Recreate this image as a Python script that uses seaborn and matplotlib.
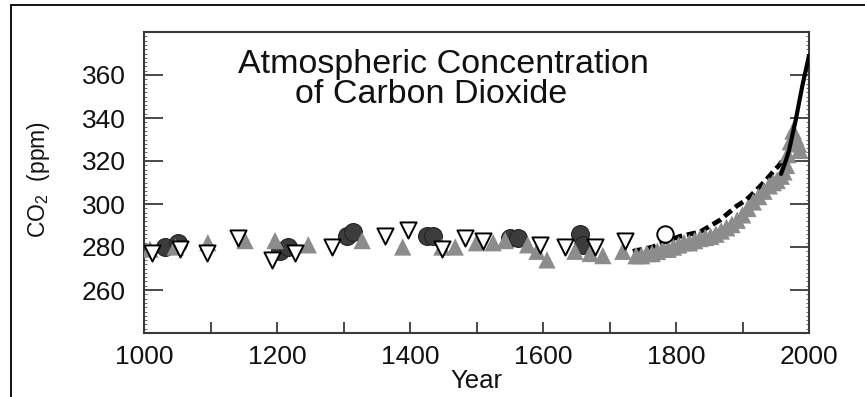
import matplotlib
matplotlib.use("Agg")
import matplotlib.pyplot as plt
from matplotlib.lines import Line2D
from matplotlib.ticker import MultipleLocator
import seaborn as sns

# ---- data ----
years_down = [1012, 1054, 1095, 1141, 1192, 1227, 1283, 1362, 1397, 1448, 1483, 1510, 1595, 1633, 1678, 1723]
ppm_down = [277, 279, 277, 284, 274, 277, 280, 285, 288, 279, 284, 283, 281, 280, 280, 283]

years_grey = [1009, 1047, 1096, 1152, 1197, 1247, 1328, 1389, 1448, 1468, 1500, 1525, 1543, 1577, 1591,
              1606, 1648, 1671, 1690, 1720]
ppm_grey = [279, 280, 282, 283, 283, 281, 283, 280, 280, 280, 282, 282, 283, 281, 278,
            274, 278, 277, 276, 278]

years_dark = [1032, 1051, 1204, 1217, 1305, 1314, 1425, 1435, 1550, 1562, 1656, 1660]
ppm_dark = [280, 282, 278, 280, 285, 287, 285, 285, 284, 284, 286, 281]

years_open = [1783]
ppm_open = [286]

years_band = [1740, 1748, 1756, 1764, 1772, 1780, 1788, 1796, 1804, 1812, 1820, 1828, 1836, 1844, 1852,
              1860, 1868, 1876, 1884, 1892, 1900, 1908, 1916, 1924, 1932, 1940, 1946, 1952, 1958,
              1962, 1966, 1968, 1972, 1976, 1980, 1984, 1986]
ppm_band = [276, 276, 277, 277, 278, 279, 279, 280, 281, 282, 282, 283, 284, 284.5, 285,
            286, 287.5, 289, 290.5, 292.5, 295, 298, 301, 303.5, 306, 308.5, 310, 311, 313,
            315, 318, 323, 329, 334, 331, 328, 325]

years_dash = [1735, 1750, 1765, 1780, 1806, 1836, 1866, 1891, 1906, 1921, 1935, 1946, 1955, 1962]
ppm_dash = [278, 279, 280, 282, 285, 287, 292.5, 299, 302, 306.5, 311, 315, 318, 321]

years_ml = [1958, 1965, 1970, 1975, 1980, 1985, 1990, 1995, 2000]
ppm_ml = [314, 320, 325, 332, 339, 347, 355, 362, 369]

x_major = [1000, 1100, 1200, 1300, 1400, 1500, 1600, 1700, 1800, 1900, 2000]
x_labels = ["1000", "", "1200", "", "1400", "", "1600", "", "1800", "", "2000"]
y_major = [260, 280, 300, 320, 340, 360]

# ---- style ----
sns.set_style("ticks")
plt.rcParams["font.family"] = ["Liberation Sans", "DejaVu Sans"]
plt.rcParams["mathtext.fontset"] = "custom"
plt.rcParams["mathtext.rm"] = "Liberation Sans"
plt.rcParams["mathtext.it"] = "Liberation Sans:italic"

fig = plt.figure(figsize=(8.65, 3.97), dpi=100)
ax = fig.add_axes([144 / 865, 1 - 333 / 397, 665 / 865, 301 / 397])

spine_c = "#3a3a3a"

sns.lineplot(x=years_dash, y=ppm_dash, ax=ax, color="black", lw=3.4, dashes=False,
             linestyle=(0, (2.0, 1.0)), zorder=2)
sns.scatterplot(x=years_band, y=ppm_band, ax=ax, marker="^", s=160, color="#8c8c8c",
                edgecolor="none", zorder=3)
sns.lineplot(x=years_ml, y=ppm_ml, ax=ax, color="black", lw=3.0, zorder=4)
sns.scatterplot(x=years_dark, y=ppm_dark, ax=ax, marker="o", s=165, color="#3c3c3c",
                edgecolor="#222222", linewidth=0.8, zorder=3)
sns.scatterplot(x=years_grey, y=ppm_grey, ax=ax, marker="^", s=155, color="#8c8c8c",
                edgecolor="none", zorder=4)
sns.scatterplot(x=years_down, y=ppm_down, ax=ax, marker="v", s=135, color="white",
                edgecolor="black", linewidth=1.4, zorder=5)
sns.scatterplot(x=years_open, y=ppm_open, ax=ax, marker="o", s=140, color="white",
                edgecolor="black", linewidth=1.4, zorder=5)

ax.set_xlim(1000, 2000)
ax.set_ylim(240, 380)
ax.set_xticks(x_major)
ax.set_xticklabels(x_labels)
ax.set_yticks(y_major)
ax.yaxis.set_minor_locator(MultipleLocator(2))

for s in ax.spines.values():
    s.set_color(spine_c)
    s.set_linewidth(1.5)

ax.tick_params(axis="x", which="major", direction="in", length=8, width=1.3, color=spine_c,
               labelsize=19, pad=9, top=False, labelcolor="#111111")
ax.tick_params(axis="y", which="major", direction="in", length=14, width=1.3, color=spine_c,
               labelsize=19, pad=13, left=True, right=True, labelcolor="#111111")
ax.tick_params(axis="y", which="minor", direction="in", length=2.5, width=0.6, color="#555555",
               left=True, right=True)
ax.tick_params(axis="x", which="minor", bottom=False, top=False)

ax.set_xlabel("Year", fontsize=18.5, labelpad=0, color="#111111")
ax.set_ylabel(r"CO$_2$  (ppm)", fontsize=16.5, color="#111111")
ax.yaxis.set_label_coords(-0.138, 0.51)

fig.text(443 / 865, 1 - 73 / 397, "Atmospheric Concentration", fontsize=24.5,
         ha="center", va="baseline", color="#111111")
fig.text(431 / 865, 1 - 103 / 397, "of Carbon Dioxide", fontsize=24.5,
         ha="center", va="baseline", color="#111111")

# outer frame (top and left edges)
fig.add_artist(Line2D([11 / 865, 1.0], [1 - 5 / 397, 1 - 5 / 397], color="black", lw=1.3,
                      transform=fig.transFigure))
fig.add_artist(Line2D([11 / 865, 11 / 865], [0.0, 1 - 5 / 397], color="black", lw=1.3,
                      transform=fig.transFigure))

fig.savefig("out.png", dpi=100)
